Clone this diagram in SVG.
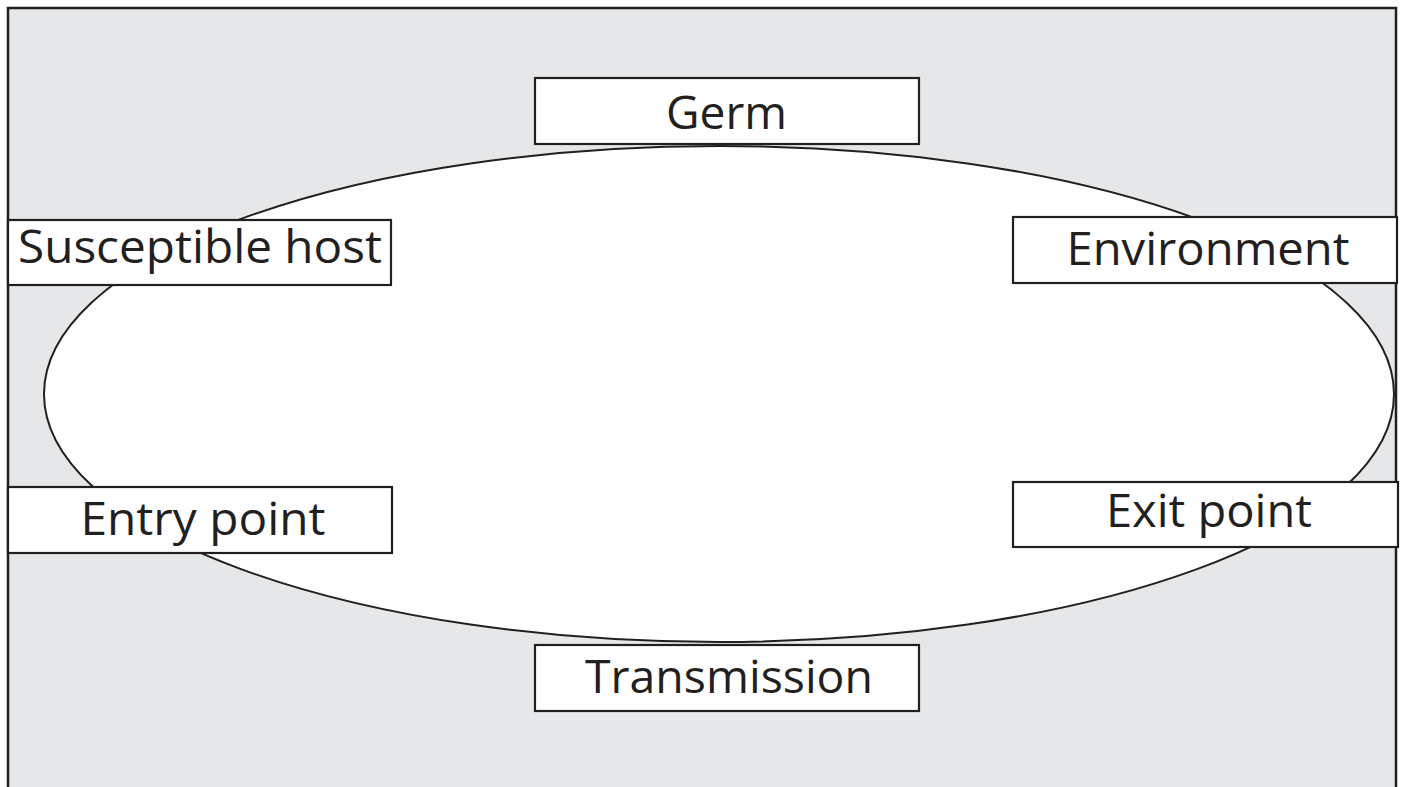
<svg xmlns="http://www.w3.org/2000/svg" width="1403" height="787" viewBox="0 0 1403 787">
  <style>
    .frame { fill: #E6E7E8; stroke: #231F20; stroke-width: 2.5; }
    .cycle { fill: #FFFFFF; stroke: #231F20; stroke-width: 2; }
    .box { fill: #FFFFFF; stroke: #231F20; stroke-width: 2.2; }
    .label { font-family: "Open Sans", "Liberation Sans", sans-serif; font-size: 46px; fill: #231F20; text-anchor: middle; }
  </style>
  <rect class="frame" x="8" y="8" width="1388" height="800"/>
  <g id="connectors">
    <ellipse class="cycle" cx="719" cy="394" rx="675" ry="248"/>
  </g>
  <g id="germ">
    <rect class="box" x="535" y="78" width="384" height="66"/>
    <text class="label" x="726.5" y="129" textLength="121" lengthAdjust="spacingAndGlyphs">Germ</text>
  </g>
  <g id="susceptible-host">
    <rect class="box" x="8" y="220" width="383" height="65"/>
    <text class="label" x="200" y="263" textLength="364" lengthAdjust="spacingAndGlyphs">Susceptible host</text>
  </g>
  <g id="environment">
    <rect class="box" x="1013" y="217" width="384" height="66"/>
    <text class="label" x="1208" y="265" textLength="283" lengthAdjust="spacingAndGlyphs">Environment</text>
  </g>
  <g id="exit-point">
    <rect class="box" x="1013" y="482" width="385" height="65"/>
    <text class="label" x="1209" y="527" textLength="206" lengthAdjust="spacingAndGlyphs">Exit point</text>
  </g>
  <g id="entry-point">
    <rect class="box" x="8" y="487" width="384" height="66"/>
    <text class="label" x="203" y="535" textLength="245" lengthAdjust="spacingAndGlyphs">Entry point</text>
  </g>
  <g id="transmission">
    <rect class="box" x="535" y="645" width="384" height="66"/>
    <text class="label" x="729" y="693" textLength="288" lengthAdjust="spacingAndGlyphs">Transmission</text>
  </g>
</svg>
